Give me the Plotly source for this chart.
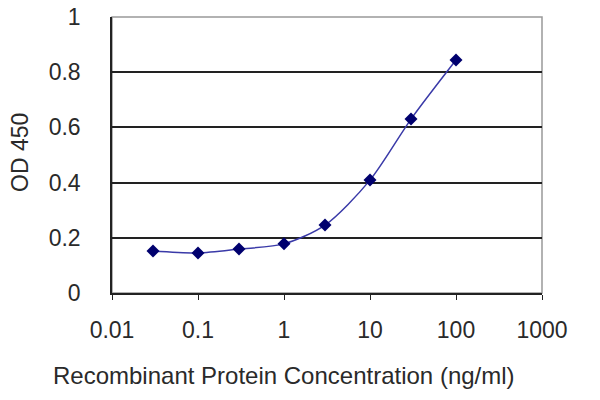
import plotly.graph_objects as go

concentration = [0.03, 0.1, 0.3, 1, 3, 10, 30, 100]
od450 = [0.152, 0.145, 0.159, 0.178, 0.246, 0.409, 0.630, 0.844]
x_ticks = [0.01, 0.1, 1, 10, 100, 1000]
x_tick_labels = ["0.01", "0.1", "1", "10", "100", "1000"]
y_ticks = [0, 0.2, 0.4, 0.6, 0.8, 1]
y_tick_labels = ["0", "0.2", "0.4", "0.6", "0.8", "1"]

font_family = "Liberation Sans, Arial, sans-serif"
text_color = "#2a2a2a"

L, R, T, B = 112, 58, 17, 107
W, H = 600, 400
pw, ph = W - L - R, H - T - B

fig = go.Figure()
fig.add_trace(go.Scatter(
    x=concentration, y=od450, mode="lines+markers",
    line=dict(color="#3a3aa8", width=1.5, shape="spline", smoothing=0.8),
    marker=dict(symbol="diamond", size=10, color="#00006e"),
    showlegend=False,
))

fig.update_layout(
    width=W, height=H,
    margin=dict(l=L, r=R, t=T, b=B),
    paper_bgcolor="white", plot_bgcolor="white",
    font=dict(family=font_family, size=23, color=text_color),
    xaxis=dict(
        type="log", range=[-2, 3],
        tickvals=x_ticks, ticktext=x_tick_labels,
        showgrid=False, zeroline=False, automargin=False,
        showline=True, linecolor="#222222", linewidth=1.5,
        ticks="outside", ticklen=5, tickcolor="#222222",
        ticklabelstandoff=11,
        tickfont=dict(size=23, color=text_color),
    ),
    yaxis=dict(
        range=[0, 1],
        tickvals=y_ticks, ticktext=y_tick_labels,
        showgrid=True, gridcolor="#222222", gridwidth=1.5,
        zeroline=False, automargin=False,
        showline=True, linecolor="#222222", linewidth=1.5,
        ticks="", ticklabelstandoff=25,
        tickfont=dict(size=23, color=text_color),
    ),
    shapes=[dict(type="rect", xref="paper", yref="paper", x0=0, x1=1, y0=0, y1=1,
                 line=dict(color="#999999", width=1.5), layer="below")],
    annotations=[
        dict(
            text="Recombinant Protein Concentration (ng/ml)",
            xref="paper", yref="paper",
            x=(284 - L) / pw, y=-(375 - (T + ph)) / ph,
            xanchor="center", yanchor="middle", showarrow=False,
            font=dict(size=24, color=text_color),
        ),
        dict(
            text="OD 450", textangle=-90,
            xref="paper", yref="paper",
            x=(20 - L) / pw, y=1 - (153 - T) / ph,
            xanchor="center", yanchor="middle", showarrow=False,
            font=dict(size=23, color=text_color),
        ),
    ],
)

fig.write_html(
    "out.html",
    config={"displayModeBar": False},
    post_script="document.body.style.margin='0';document.body.style.overflow='hidden';",
)
